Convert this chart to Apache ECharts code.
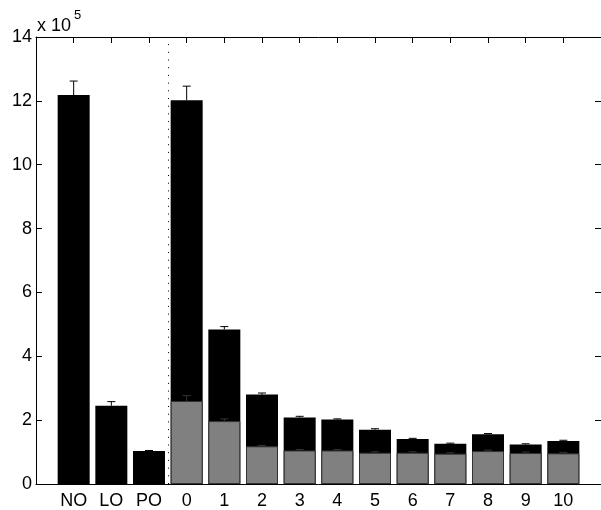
<!DOCTYPE html>
<html>
<head>
<meta charset="utf-8">
<script src="https://cdn.jsdelivr.net/npm/echarts@6/dist/echarts.min.js"></script>
<style>
html,body{margin:0;padding:0;background:#fff;}
#chart{width:601px;height:510px;}
</style>
</head>
<body>
<div id="chart"></div>
<script>
// Values in units of 10^5
const categories = ['NO','LO','PO','0','1','2','3','4','5','6','7','8','9','10'];
const totalValues = [12.18, 2.45, 1.03, 12.02, 4.84, 2.80, 2.08, 2.02, 1.70, 1.41, 1.26, 1.56, 1.24, 1.35];
const totalErrTop = [12.62, 2.58, 1.05, 12.46, 4.93, 2.85, 2.12, 2.04, 1.73, 1.43, 1.28, 1.58, 1.26, 1.37];
const grayValues = [null, null, null, 2.60, 1.97, 1.18, 1.05, 1.05, 0.98, 0.98, 0.95, 1.03, 0.97, 0.96];
const grayErrTop = [null, null, null, 2.77, 2.04, 1.21, 1.08, 1.08, 1.01, 1.01, 0.98, 1.06, 1.00, 0.99];
const yTicks = [0, 2, 4, 6, 8, 10, 12, 14];
const dividerX = 3.5;

const FONT = 'Liberation Sans, Arial, Helvetica, sans-serif';
const chart = echarts.init(document.getElementById('chart'), null, {renderer: 'canvas'});

function errRender(color) {
  return function (params, api) {
    const i = api.value(0);
    const v = api.value(1);
    const t = api.value(2);
    const p0 = api.coord([i, v]);
    const p1 = api.coord([i, t]);
    const hw = 4;
    return {
      type: 'group',
      children: [
        {type: 'line', shape: {x1: p0[0], y1: p0[1], x2: p1[0], y2: p1[1]}, style: {stroke: color, lineWidth: 1}},
        {type: 'line', shape: {x1: p1[0] - hw, y1: p1[1], x2: p1[0] + hw, y2: p1[1]}, style: {stroke: color, lineWidth: 1}}
      ]
    };
  };
}

const totalData = categories.map((c, i) => [i + 1, totalValues[i]]);
const grayData = categories.map((c, i) => [i + 1, grayValues[i]]).filter(d => d[1] != null);
const totalErrData = categories.map((c, i) => [i + 1, totalValues[i], totalErrTop[i]]);
const grayErrData = categories.map((c, i) => [i + 1, grayValues[i], grayErrTop[i]]).filter(d => d[1] != null);

const xLabel = v => (Number.isInteger(v) && v >= 1 && v <= categories.length) ? categories[v - 1] : '';

const axisLineStyle = {color: '#000', width: 1};
const option = {
  animation: false,
  backgroundColor: '#fff',
  grid: {left: 36, right: -5, top: 37, bottom: 25, containLabel: false},
  xAxis: [
    {
      type: 'value', min: 0, max: 15, interval: 1, position: 'bottom',
      axisLine: {show: true, onZero: false, lineStyle: axisLineStyle},
      axisTick: {show: true, inside: true, length: 6, lineStyle: {color: '#000'}},
      axisLabel: {formatter: xLabel, color: '#000', fontFamily: FONT, fontSize: 18, margin: 8, showMinLabel: false, showMaxLabel: false},
      splitLine: {show: false}
    },
    {
      type: 'value', min: 0, max: 15, interval: 1, position: 'top',
      axisLine: {show: true, onZero: false, lineStyle: axisLineStyle},
      axisTick: {show: true, inside: true, length: 6, lineStyle: {color: '#000'}},
      axisLabel: {show: false},
      splitLine: {show: false}
    }
  ],
  yAxis: [
    {
      type: 'value', min: 0, max: 14, interval: 2, position: 'left',
      axisLine: {show: true, onZero: false, lineStyle: axisLineStyle},
      axisTick: {show: true, inside: true, length: 6, lineStyle: {color: '#000'}},
      axisLabel: {color: '#000', fontFamily: FONT, fontSize: 18, margin: 4,
        formatter: v => yTicks.indexOf(v) >= 0 ? String(v) : ''},
      splitLine: {show: false}
    },
    {
      type: 'value', min: 0, max: 14, interval: 2, position: 'right',
      axisLine: {show: true, onZero: false, lineStyle: axisLineStyle},
      axisTick: {show: true, inside: true, length: 6, lineStyle: {color: '#000'}},
      axisLabel: {show: false},
      splitLine: {show: false}
    }
  ],
  graphic: [
    {type: 'text', left: 37, top: 17, style: {text: 'x 10', fontFamily: FONT, fontSize: 18, fill: '#000'}},
    {type: 'text', left: 74, top: 9, style: {text: '5', fontFamily: FONT, fontSize: 13, fill: '#000'}}
  ],
  series: [
    {
      name: 'errTotal', type: 'custom', xAxisIndex: 0, yAxisIndex: 0, z: 1,
      renderItem: errRender('#000'), data: totalErrData, silent: true,
      encode: {x: 0, y: [1, 2]}
    },
    {
      name: 'total', type: 'bar', xAxisIndex: 0, yAxisIndex: 0, z: 2,
      barWidth: 32, data: totalData,
      itemStyle: {color: '#000', borderColor: '#000', borderWidth: 0},
      markLine: {
        silent: true, symbol: ['none', 'none'], label: {show: false},
        lineStyle: {color: '#000', type: [1, 6.7], width: 1},
        data: [{xAxis: dividerX}]
      }
    },
    {
      name: 'errGray', type: 'custom', xAxisIndex: 0, yAxisIndex: 0, z: 3,
      renderItem: errRender('#333'), data: grayErrData, silent: true,
      encode: {x: 0, y: [1, 2]}
    },
    {
      name: 'gray', type: 'bar', xAxisIndex: 0, yAxisIndex: 0, z: 4,
      barWidth: 32, barGap: '-100%', data: grayData,
      itemStyle: {color: '#808080', borderColor: '#333', borderWidth: 1}
    }
  ]
};
chart.setOption(option);
</script>
</body>
</html>
